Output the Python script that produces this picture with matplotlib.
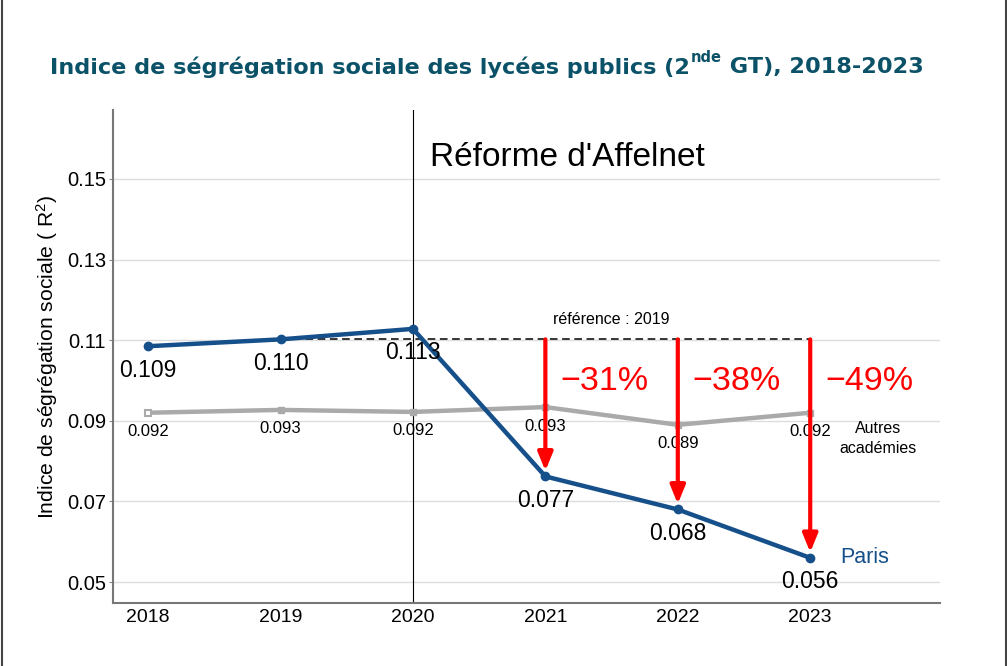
import matplotlib
matplotlib.use("Agg")
import matplotlib.pyplot as plt
from matplotlib.lines import Line2D

# ---- data ----
years = [2018, 2019, 2020, 2021, 2022, 2023]
paris = [0.1085, 0.1102, 0.1128, 0.0762, 0.0680, 0.0560]
paris_labels = ["0.109", "0.110", "0.113", "0.077", "0.068", "0.056"]
autres = [0.0920, 0.0927, 0.0922, 0.0934, 0.0890, 0.0920]
autres_labels = ["0.092", "0.093", "0.092", "0.093", "0.089", "0.092"]
ref_year = 2019
reform_year = 2020
drop_years = [2021, 2022, 2023]
drop_labels = ["\u221231%", "\u221238%", "\u221249%"]
yticks = [0.05, 0.07, 0.09, 0.11, 0.13, 0.15]
ytick_labels = ["0.05", "0.07", "0.09", "0.11", "0.13", "0.15"]

BLUE = "#16508A"
GRAY = "#AAAAAA"
TEAL = "#0B5268"
RED = "#FF0000"
FONT = "Liberation Sans"

plt.rcParams["font.family"] = [FONT, "DejaVu Sans"]
plt.rcParams["mathtext.fontset"] = "custom"
plt.rcParams["mathtext.rm"] = FONT
plt.rcParams["mathtext.it"] = FONT

fig = plt.figure(figsize=(10.07, 6.66), dpi=100)
ax = fig.add_axes([113/1007, 1-603/666, (940-113)/1007, (603-110)/666])

ax.set_xlim(2017.735, 2023.98)
ax.set_ylim(0.0448, 0.1671)

for y in yticks:
    ax.axhline(y, color="#DDDDDD", lw=1.0, zorder=0)

ax.axvline(reform_year, color="black", lw=0.8, zorder=1)

ref_val = paris[years.index(ref_year)]
ax.plot([ref_year, years[-1]], [ref_val, ref_val], ls=(0, (5, 3)), color="black", lw=1.1, zorder=2)

ax.plot(years, autres, color=GRAY, lw=3.2, zorder=3)
ax.plot(years[1:], autres[1:], ls="none", marker="s", ms=5, color=GRAY, zorder=4)
ax.plot(years[:1], autres[:1], ls="none", marker="s", ms=5, mfc="white", mec=GRAY, mew=1.5, zorder=4)

ax.plot(years, paris, color=BLUE, lw=3.2, marker="o", ms=6, zorder=5)

for x, v, lab in zip(years, paris, paris_labels):
    ax.annotate(lab, (x, v), xytext=(0, -24), textcoords="offset pixels",
                ha="center", va="center", fontsize=16.5, color="black", zorder=6)
for x, v, lab in zip(years, autres, autres_labels):
    ax.annotate(lab, (x, v), xytext=(0, -19), textcoords="offset pixels",
                ha="center", va="center", fontsize=12, color="black", zorder=6)

for x, lab in zip(drop_years, drop_labels):
    v = paris[years.index(x)]
    ax.annotate("", xy=(x, v), xytext=(x, ref_val),
                arrowprops=dict(arrowstyle="-|>,head_width=0.45,head_length=1.1",
                                color=RED, lw=3, shrinkA=0, shrinkB=4),
                zorder=7)
    ax.annotate(lab, (x, ref_val), xytext=(59, -42), textcoords="offset pixels",
                ha="center", va="center", fontsize=24.5, color=RED, zorder=7)

ax.annotate("référence : 2019", (2021.5, ref_val), xytext=(0, 20), textcoords="offset pixels",
            ha="center", va="center", fontsize=11.5, color="black")
ax.annotate("Réforme d'Affelnet", (reform_year, 0.15), xytext=(17, 21), textcoords="offset pixels",
            ha="left", va="center", fontsize=24, color="black")
ax.annotate("Paris", (years[-1], paris[-1]), xytext=(30, 0), textcoords="offset pixels",
            ha="left", va="center", fontsize=15.5, color=BLUE)
ax.annotate("Autres\nacadémies", (years[-1], autres[-1]), xytext=(68, -26), textcoords="offset pixels",
            ha="center", va="center", fontsize=11.5, color="black", linespacing=1.45)

ax.set_xticks(years)
ax.set_xticklabels([str(y) for y in years], fontsize=14)
ax.set_yticks(yticks)
ax.set_yticklabels(ytick_labels, fontsize=14.5)
ax.tick_params(axis="both", length=3, width=0.8, color="#888888", pad=2)
ax.tick_params(axis="x", length=0, pad=4)

for s in ["top", "right"]:
    ax.spines[s].set_visible(False)
for s in ["left", "bottom"]:
    ax.spines[s].set_color("#777777")
    ax.spines[s].set_linewidth(1.5)

ax.set_ylabel("Indice de ségrégation sociale ( $\\mathrm{R}^2$)", fontsize=15.2, labelpad=5)

# title pieces with superscript
fig.canvas.draw()
r = fig.canvas.get_renderer()
tfont = dict(family=["DejaVu Sans"], weight="bold", color=TEAL)
ty = 1 - 67/666
x0 = 50/1007
t1 = fig.text(x0, ty, "Indice de ségrégation sociale des lycées publics (2", fontsize=16.1, va="center", ha="left", **tfont)
bb = t1.get_window_extent(r)
t2 = fig.text(bb.x1/1007 + 0.001, ty + 0.014, "nde", fontsize=10.5, va="center", ha="left", **tfont)
bb2 = t2.get_window_extent(r)
t3 = fig.text(bb2.x1/1007, ty, " GT), 2018-2023", fontsize=16.1, va="center", ha="left", **tfont)

# side border lines
fig.add_artist(Line2D([1.5/1007, 1.5/1007], [0, 1], color="#444444", lw=1.5))
fig.add_artist(Line2D([1005.5/1007, 1005.5/1007], [0, 1], color="#444444", lw=1.5))

fig.savefig("out.png", dpi=100)
